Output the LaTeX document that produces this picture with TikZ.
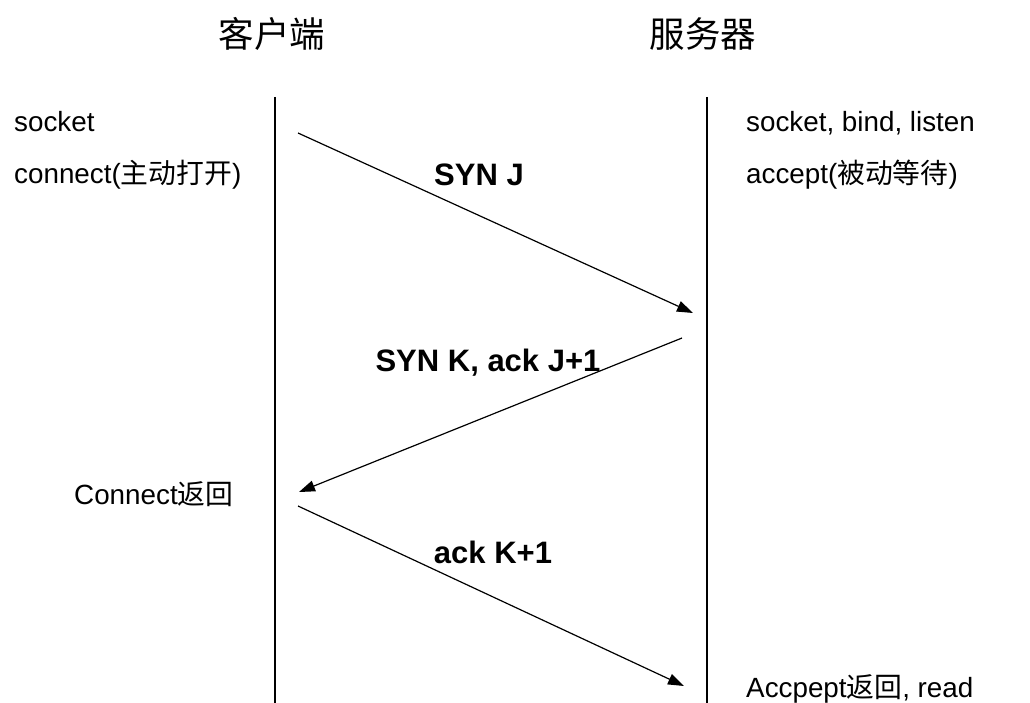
\documentclass[tikz,border=0pt]{standalone}
\usepackage{fontspec}
\setmainfont{Liberation Sans}
\newfontfamily\cjk{Noto Sans CJK SC}
\usetikzlibrary{arrows.meta}
\begin{document}
\begin{tikzpicture}[x=1pt,y=-1pt,
  lbl/.style={inner sep=0pt,font=\fontsize{27.8}{30}\selectfont},
  msg/.style={inner sep=0pt,font=\fontsize{31}{34}\selectfont\bfseries},
  ttl/.style={inner sep=0pt,font=\fontsize{35.5}{38}\selectfont\cjk},
  life/.style={line width=1.4pt},
  msgarrow/.style={line width=1.2pt,-{Triangle[length=16pt,width=11pt]}}]
\useasboundingbox[fill=white] (0,0) rectangle (1030,703);
% titles
\node[ttl,anchor=base] (tc) at (272,48) {客户端};
\node[ttl,anchor=base] (ts) at (703,48) {服务器};
% lifelines
\coordinate (ctop) at (275,97);
\coordinate (cbot) at (275,703);
\coordinate (stop) at (707,97);
\coordinate (sbot) at (707,703);
\draw[life] (ctop) -- (cbot);
\draw[life] (stop) -- (sbot);
% side labels
\node[lbl,anchor=base west] (c1) at (14,132) {socket};
\node[lbl,anchor=base west] (c2) at (14,184) {connect({\cjk 主动打开})};
\node[lbl,anchor=base west] (s1) at (746,132) {socket, bind, listen};
\node[lbl,anchor=base west] (s2) at (746,184) {accept({\cjk 被动等待})};
\node[lbl,anchor=base west] (c3) at (74,504) {Connect{\cjk 返回}};
\node[lbl,anchor=base west] (s3) at (746,697) {Accpept{\cjk 返回}, read};
% message arrows
\coordinate (a1s) at (298,133);
\coordinate (a1e) at (693,313);
\coordinate (a2s) at (682,338);
\coordinate (a2e) at (299,492);
\coordinate (a3s) at (298,506);
\coordinate (a3e) at (684,686);
\draw[msgarrow] (a1s) -- (a1e);
\draw[msgarrow] (a2s) -- (a2e);
\draw[msgarrow] (a3s) -- (a3e);
% message labels
\node[msg,anchor=base] (m1) at (479,186) {SYN J};
\node[msg,anchor=base] (m2) at (488,371) {SYN K, ack J+1};
\node[msg,anchor=base] (m3) at (493,563) {ack K+1};
\end{tikzpicture}
\end{document}
